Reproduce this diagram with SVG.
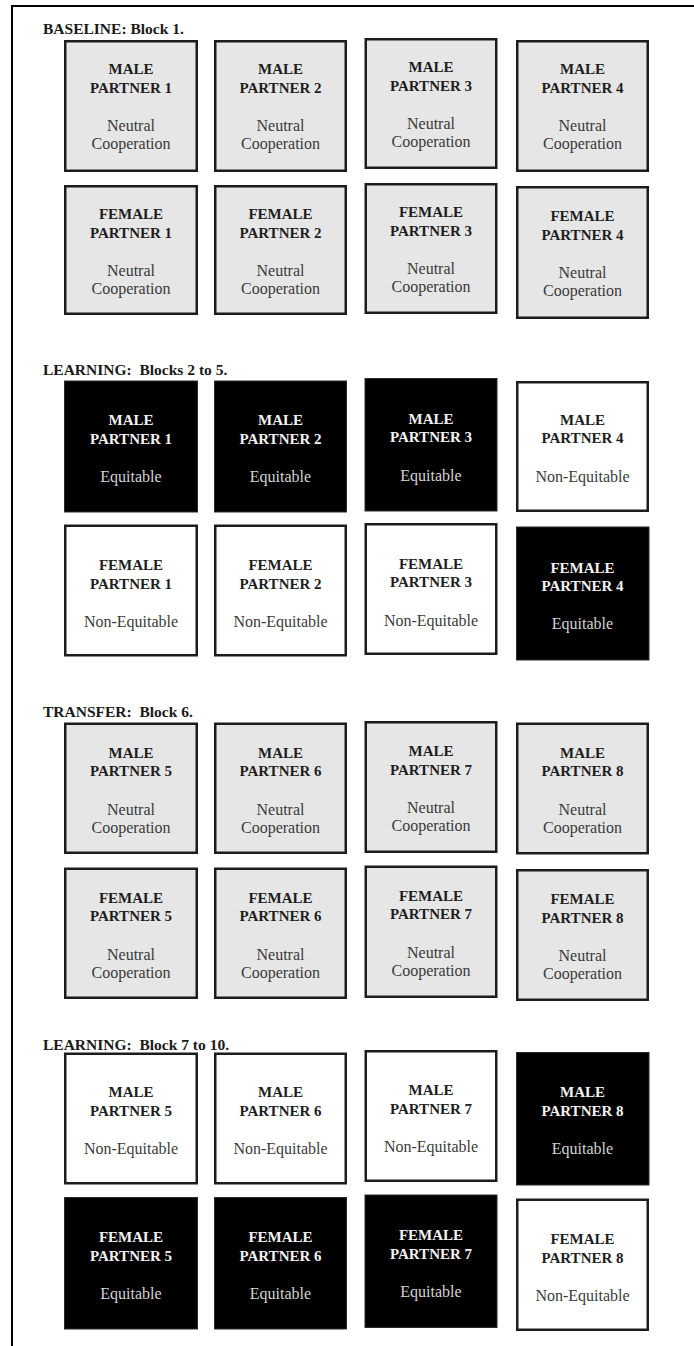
<svg xmlns="http://www.w3.org/2000/svg" width="694" height="1346" viewBox="0 0 694 1346">
<style>
.t{font-family:"Liberation Serif","Times New Roman",serif;font-weight:bold;font-size:15.5px;fill:#1a1a1a}
.h{font-family:"Liberation Serif","Times New Roman",serif;font-weight:bold;font-size:15px;text-anchor:middle}
.d{font-family:"Liberation Serif","Times New Roman",serif;font-size:16px;text-anchor:middle}
.g rect{fill:#e6e6e6;stroke:#1c1c1c;stroke-width:2.5}
.w rect{fill:#ffffff;stroke:#1c1c1c;stroke-width:2.5}
.b rect{fill:#000000;stroke:#2a2a2a;stroke-width:1}
.g .h,.w .h{fill:#1e1e1e}
.g .d,.w .d{fill:#3a3a3a}
.b .h{fill:#f2f2f2}
.b .d{fill:#d4d4d4}
.frame{stroke:#000;stroke-width:2;fill:none}
</style>
<rect x="0" y="0" width="694" height="1346" fill="#ffffff"/>
<g id="frame">
<path class="frame" d="M12,1346 V6 H694"/>
</g>
<g id="titles">
<text class="t" x="43" y="34">BASELINE: Block 1.</text>
<text class="t" x="43" y="375" xml:space="preserve">LEARNING:  Blocks 2 to 5.</text>
<text class="t" x="43" y="717" xml:space="preserve">TRANSFER:  Block 6.</text>
<text class="t" x="43" y="1050" xml:space="preserve">LEARNING:  Block 7 to 10.</text>
</g>
<g id="connectors"></g>

<!-- Section 1 baseline -->
<g id="s1-m1" class="g"><rect x="65.25" y="41.25" width="131.5" height="129.5"/><text class="h" x="131" y="74">MALE</text><text class="h" x="131" y="92.5">PARTNER 1</text><text class="d" x="131" y="131">Neutral</text><text class="d" x="131" y="149">Cooperation</text></g>
<g id="s1-m2" class="g"><rect x="215.25" y="41.25" width="130.5" height="129.5"/><text class="h" x="280.5" y="74">MALE</text><text class="h" x="280.5" y="92.5">PARTNER 2</text><text class="d" x="280.5" y="131">Neutral</text><text class="d" x="280.5" y="149">Cooperation</text></g>
<g id="s1-m3" class="g"><rect x="365.75" y="39.25" width="130.5" height="128.5"/><text class="h" x="431" y="72">MALE</text><text class="h" x="431" y="90.5">PARTNER 3</text><text class="d" x="431" y="129">Neutral</text><text class="d" x="431" y="147">Cooperation</text></g>
<g id="s1-m4" class="g"><rect x="517.25" y="41.25" width="130.5" height="129.5"/><text class="h" x="582.5" y="74">MALE</text><text class="h" x="582.5" y="92.5">PARTNER 4</text><text class="d" x="582.5" y="131">Neutral</text><text class="d" x="582.5" y="149">Cooperation</text></g>
<g id="s1-f1" class="g"><rect x="65.25" y="186.25" width="131.5" height="127.5"/><text class="h" x="131" y="219">FEMALE</text><text class="h" x="131" y="237.5">PARTNER 1</text><text class="d" x="131" y="276">Neutral</text><text class="d" x="131" y="294">Cooperation</text></g>
<g id="s1-f2" class="g"><rect x="215.25" y="186.25" width="130.5" height="127.5"/><text class="h" x="280.5" y="219">FEMALE</text><text class="h" x="280.5" y="237.5">PARTNER 2</text><text class="d" x="280.5" y="276">Neutral</text><text class="d" x="280.5" y="294">Cooperation</text></g>
<g id="s1-f3" class="g"><rect x="365.75" y="184.25" width="130.5" height="128.5"/><text class="h" x="431" y="217">FEMALE</text><text class="h" x="431" y="235.5">PARTNER 3</text><text class="d" x="431" y="274">Neutral</text><text class="d" x="431" y="292">Cooperation</text></g>
<g id="s1-f4" class="g"><rect x="517.25" y="187.25" width="130.5" height="130.5"/><text class="h" x="582.5" y="221">FEMALE</text><text class="h" x="582.5" y="239.5">PARTNER 4</text><text class="d" x="582.5" y="278">Neutral</text><text class="d" x="582.5" y="296">Cooperation</text></g>

<!-- Section 2 learning 2-5 -->
<g id="s2-m1" class="b"><rect x="64.5" y="381" width="133" height="131"/><text class="h" x="131" y="425">MALE</text><text class="h" x="131" y="443.5">PARTNER 1</text><text class="d" x="131" y="482">Equitable</text></g>
<g id="s2-m2" class="b"><rect x="214.5" y="381" width="132" height="131"/><text class="h" x="280.5" y="425">MALE</text><text class="h" x="280.5" y="443.5">PARTNER 2</text><text class="d" x="280.5" y="482">Equitable</text></g>
<g id="s2-m3" class="b"><rect x="365" y="378.5" width="132" height="132.5"/><text class="h" x="431" y="423.5">MALE</text><text class="h" x="431" y="442">PARTNER 3</text><text class="d" x="431" y="480.5">Equitable</text></g>
<g id="s2-m4" class="w"><rect x="517.25" y="382.25" width="130.5" height="128.5"/><text class="h" x="582.5" y="424.5">MALE</text><text class="h" x="582.5" y="443">PARTNER 4</text><text class="d" x="582.5" y="481.5">Non-Equitable</text></g>
<g id="s2-f1" class="w"><rect x="65.25" y="525.75" width="131.5" height="129.5"/><text class="h" x="131" y="570">FEMALE</text><text class="h" x="131" y="588.5">PARTNER 1</text><text class="d" x="131" y="627">Non-Equitable</text></g>
<g id="s2-f2" class="w"><rect x="215.25" y="525.75" width="130.5" height="129.5"/><text class="h" x="280.5" y="570">FEMALE</text><text class="h" x="280.5" y="588.5">PARTNER 2</text><text class="d" x="280.5" y="627">Non-Equitable</text></g>
<g id="s2-f3" class="w"><rect x="365.75" y="524.25" width="130.5" height="129.5"/><text class="h" x="431" y="568.5">FEMALE</text><text class="h" x="431" y="587">PARTNER 3</text><text class="d" x="431" y="625.5">Non-Equitable</text></g>
<g id="s2-f4" class="b"><rect x="516.5" y="527" width="132.5" height="133"/><text class="h" x="582.5" y="572.5">FEMALE</text><text class="h" x="582.5" y="591">PARTNER 4</text><text class="d" x="582.5" y="629">Equitable</text></g>

<!-- Section 3 transfer -->
<g id="s3-m1" class="g"><rect x="65.25" y="723.75" width="131.5" height="129"/><text class="h" x="131" y="757.5">MALE</text><text class="h" x="131" y="776">PARTNER 5</text><text class="d" x="131" y="814.5">Neutral</text><text class="d" x="131" y="832.5">Cooperation</text></g>
<g id="s3-m2" class="g"><rect x="215.25" y="723.75" width="130.5" height="129"/><text class="h" x="280.5" y="757.5">MALE</text><text class="h" x="280.5" y="776">PARTNER 6</text><text class="d" x="280.5" y="814.5">Neutral</text><text class="d" x="280.5" y="832.5">Cooperation</text></g>
<g id="s3-m3" class="g"><rect x="365.75" y="722.25" width="130.5" height="129.5"/><text class="h" x="431" y="756">MALE</text><text class="h" x="431" y="774.5">PARTNER 7</text><text class="d" x="431" y="813">Neutral</text><text class="d" x="431" y="831">Cooperation</text></g>
<g id="s3-m4" class="g"><rect x="517.25" y="723.75" width="130.5" height="129.5"/><text class="h" x="582.5" y="757.5">MALE</text><text class="h" x="582.5" y="776">PARTNER 8</text><text class="d" x="582.5" y="814.5">Neutral</text><text class="d" x="582.5" y="832.5">Cooperation</text></g>
<g id="s3-f1" class="g"><rect x="65.25" y="868.75" width="131.5" height="129"/><text class="h" x="131" y="902.5">FEMALE</text><text class="h" x="131" y="921">PARTNER 5</text><text class="d" x="131" y="959.5">Neutral</text><text class="d" x="131" y="977.5">Cooperation</text></g>
<g id="s3-f2" class="g"><rect x="215.25" y="868.75" width="130.5" height="129"/><text class="h" x="280.5" y="902.5">FEMALE</text><text class="h" x="280.5" y="921">PARTNER 6</text><text class="d" x="280.5" y="959.5">Neutral</text><text class="d" x="280.5" y="977.5">Cooperation</text></g>
<g id="s3-f3" class="g"><rect x="365.75" y="866.75" width="130.5" height="130"/><text class="h" x="431" y="900.5">FEMALE</text><text class="h" x="431" y="919">PARTNER 7</text><text class="d" x="431" y="957.5">Neutral</text><text class="d" x="431" y="975.5">Cooperation</text></g>
<g id="s3-f4" class="g"><rect x="517.25" y="870.25" width="130.5" height="129.5"/><text class="h" x="582.5" y="904">FEMALE</text><text class="h" x="582.5" y="922.5">PARTNER 8</text><text class="d" x="582.5" y="961">Neutral</text><text class="d" x="582.5" y="979">Cooperation</text></g>

<!-- Section 4 learning 7-10 -->
<g id="s4-m1" class="w"><rect x="65.25" y="1053.75" width="131.5" height="129.5"/><text class="h" x="131" y="1097">MALE</text><text class="h" x="131" y="1116">PARTNER 5</text><text class="d" x="131" y="1154">Non-Equitable</text></g>
<g id="s4-m2" class="w"><rect x="215.25" y="1053.75" width="130.5" height="129.5"/><text class="h" x="280.5" y="1097">MALE</text><text class="h" x="280.5" y="1116">PARTNER 6</text><text class="d" x="280.5" y="1154">Non-Equitable</text></g>
<g id="s4-m3" class="w"><rect x="365.75" y="1051.25" width="130.5" height="129.5"/><text class="h" x="431" y="1094.5">MALE</text><text class="h" x="431" y="1113.5">PARTNER 7</text><text class="d" x="431" y="1151.5">Non-Equitable</text></g>
<g id="s4-m4" class="b"><rect x="516.5" y="1052.5" width="132.5" height="132.5"/><text class="h" x="582.5" y="1097">MALE</text><text class="h" x="582.5" y="1116">PARTNER 8</text><text class="d" x="582.5" y="1154">Equitable</text></g>
<g id="s4-f1" class="b"><rect x="64.5" y="1197.5" width="133" height="131.5"/><text class="h" x="131" y="1242">FEMALE</text><text class="h" x="131" y="1261">PARTNER 5</text><text class="d" x="131" y="1299">Equitable</text></g>
<g id="s4-f2" class="b"><rect x="214.5" y="1197.5" width="132" height="131.5"/><text class="h" x="280.5" y="1242">FEMALE</text><text class="h" x="280.5" y="1261">PARTNER 6</text><text class="d" x="280.5" y="1299">Equitable</text></g>
<g id="s4-f3" class="b"><rect x="365" y="1195" width="132" height="132.5"/><text class="h" x="431" y="1239.5">FEMALE</text><text class="h" x="431" y="1258.5">PARTNER 7</text><text class="d" x="431" y="1296.5">Equitable</text></g>
<g id="s4-f4" class="w"><rect x="517.25" y="1199.75" width="130.5" height="130"/><text class="h" x="582.5" y="1243.5">FEMALE</text><text class="h" x="582.5" y="1262.5">PARTNER 8</text><text class="d" x="582.5" y="1300.5">Non-Equitable</text></g>
</svg>
